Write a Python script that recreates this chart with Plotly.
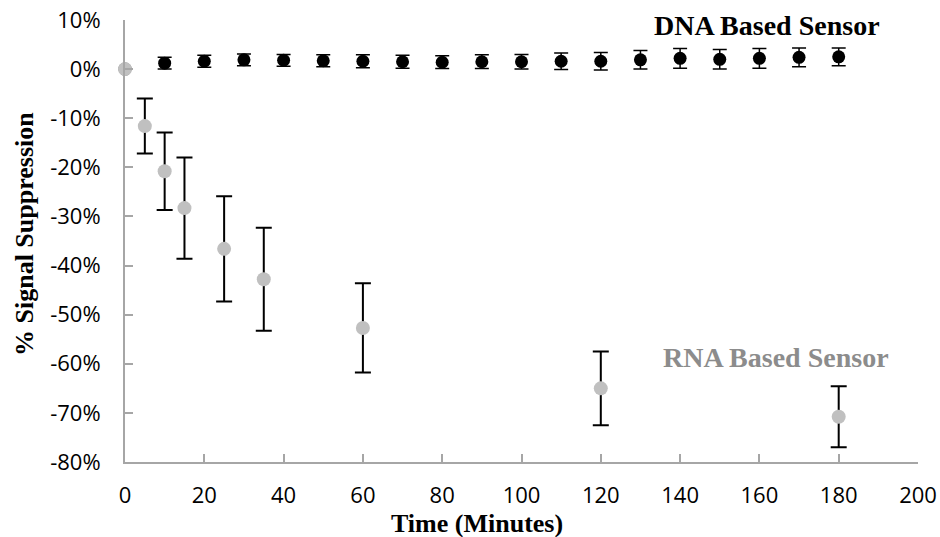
import plotly.graph_objects as go

# DNA based sensor
dna_x = [0, 10, 20, 30, 40, 50, 60, 70, 80, 90, 100, 110, 120, 130, 140, 150, 160, 170, 180]
dna_y = [0, 1.2, 1.6, 1.9, 1.8, 1.7, 1.6, 1.5, 1.4, 1.5, 1.5, 1.6, 1.6, 1.9, 2.2, 2.0, 2.2, 2.4, 2.5]
dna_err = [0, 1.2, 1.2, 1.2, 1.2, 1.2, 1.3, 1.3, 1.3, 1.4, 1.5, 1.7, 1.8, 1.9, 2.0, 2.0, 2.0, 1.9, 1.8]

# RNA based sensor
rna_x = [0, 5, 10, 15, 25, 35, 60, 120, 180]
rna_y = [0, -11.6, -20.8, -28.3, -36.6, -42.8, -52.7, -65.0, -70.8]
rna_err = [0, 5.6, 7.9, 10.3, 10.7, 10.5, 9.1, 7.5, 6.2]

x_ticks = [0, 20, 40, 60, 80, 100, 120, 140, 160, 180, 200]
y_ticks = [10, 0, -10, -20, -30, -40, -50, -60, -70, -80]
y_ticktext = ["10%", "0%", "-10%", "-20%", "-30%", "-40%", "-50%", "-60%", "-70%", "-80%"]

fig = go.Figure()
fig.add_trace(go.Scatter(
    x=dna_x, y=dna_y, mode="markers", cliponaxis=False,
    marker=dict(color="black", size=13),
    error_y=dict(type="data", array=dna_err, visible=True, color="black", thickness=1.5, width=7),
    showlegend=False))
fig.add_trace(go.Scatter(
    x=rna_x, y=rna_y, mode="markers", cliponaxis=False,
    marker=dict(color="#c0c0c0", size=14),
    error_y=dict(type="data", array=rna_err, visible=True, color="black", thickness=2, width=8),
    showlegend=False))

fig.add_annotation(x=162, y=8.8, xref="x", yref="y", text="<b>DNA Based Sensor</b>",
                   showarrow=False, xanchor="center", yanchor="middle",
                   font=dict(family="Liberation Serif", size=28, color="black"))
fig.add_annotation(x=164.2, y=-58.7, xref="x", yref="y", text="<b>RNA Based Sensor</b>",
                   showarrow=False, xanchor="center", yanchor="middle",
                   font=dict(family="Liberation Serif", size=28, color="#8c8c8c"))

# figure geometry (page margin removed below, so figure pixels = page pixels)
W, H = 940, 537
L, R, T, B = 125, 22, 20, 75
pw, ph = W - L - R, H - T - B


def paper(px, py):
    return (px - L) / pw, (H - B - py) / ph


tx, ty = paper(477, 523)
fig.add_annotation(x=tx, y=ty, xref="paper", yref="paper", text="<b>Time (Minutes)</b>",
                   showarrow=False, xanchor="center", yanchor="middle",
                   font=dict(family="Liberation Serif", size=26, color="black"))
yx, yy = paper(25, 234)
fig.add_annotation(x=yx, y=yy, xref="paper", yref="paper", text="<b>% Signal Suppression</b>",
                   textangle=-90, showarrow=False, xanchor="center", yanchor="middle",
                   font=dict(family="Liberation Serif", size=26, color="black"))

axis_col = "#a6a6a6"
fig.update_xaxes(range=[0, 200], tickvals=x_ticks, ticks="inside", ticklen=8, tickwidth=2,
                 tickcolor=axis_col, showline=True, linecolor=axis_col, linewidth=2,
                 showgrid=False, zeroline=False, ticklabelstandoff=13, ticklabeloverflow="allow",
                 automargin=False,
                 tickfont=dict(family="Open Sans", size=22, color="black"))
fig.update_yaxes(range=[-80, 10], tickvals=y_ticks, ticktext=y_ticktext, ticks="inside", ticklen=8,
                 tickwidth=2, tickcolor=axis_col, showline=True, linecolor=axis_col, linewidth=2,
                 showgrid=False, zeroline=False, ticklabelstandoff=18, ticklabeloverflow="allow",
                 automargin=False,
                 tickfont=dict(family="Open Sans", size=22, color="black"))
fig.update_layout(width=W, height=H, margin=dict(l=L, r=R, t=T, b=B),
                  plot_bgcolor="white", paper_bgcolor="white")
fig.write_html("out.html", config={"displayModeBar": False},
               post_script="document.body.style.margin='0';document.body.style.overflow='hidden';")
